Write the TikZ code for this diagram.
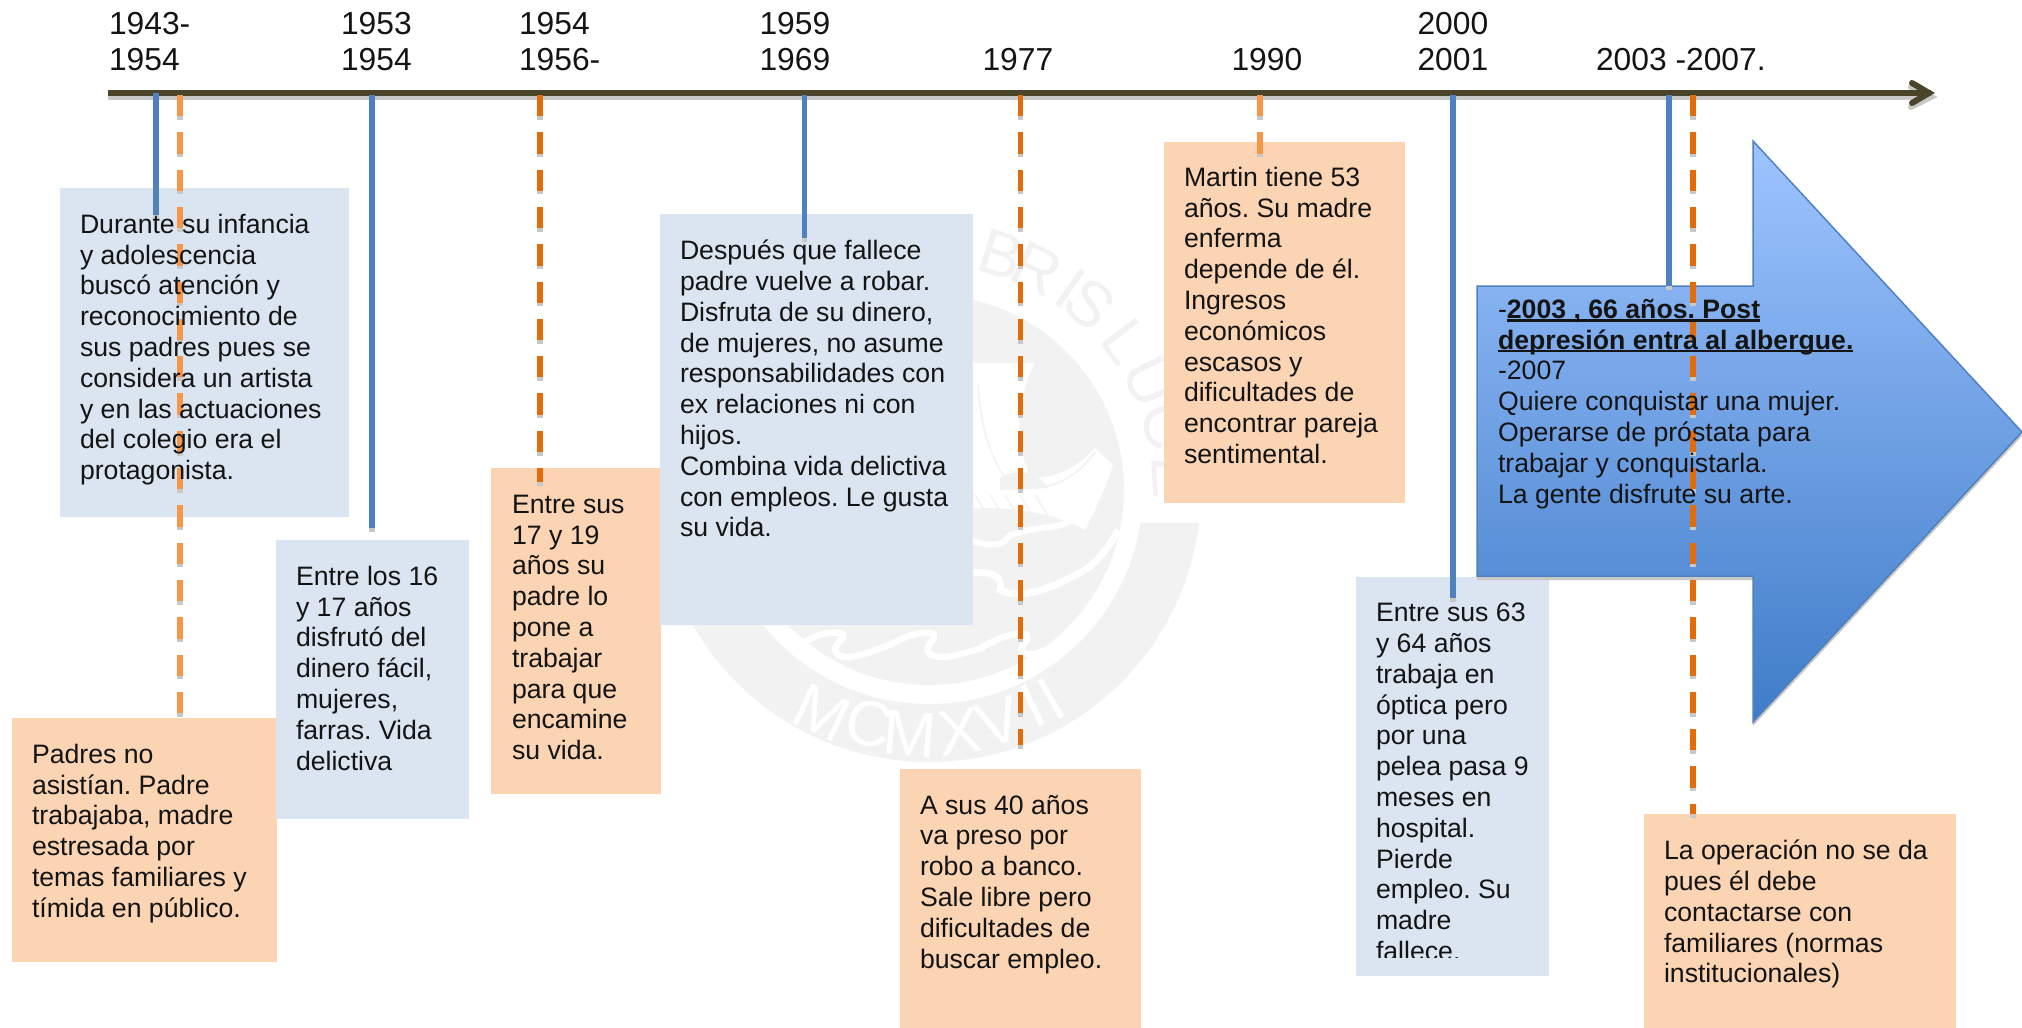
\documentclass[tikz,border=0pt]{standalone}
\usepackage{fontspec}
\setmainfont{Liberation Sans}
\frenchspacing
\definecolor{boxblue}{HTML}{DBE5F1}
\definecolor{boxorange}{HTML}{FBD4B4}
\definecolor{lineblue}{HTML}{4F81BD}
\definecolor{lineorange}{HTML}{E36C0A}
\definecolor{lineorangelt}{HTML}{F79646}
\definecolor{axiscol}{HTML}{4A452A}
\definecolor{shadowgray}{HTML}{C8C8C8}
\definecolor{wm}{HTML}{F2F2F2}
\definecolor{arrtop}{HTML}{9EC4FF}
\definecolor{arrbot}{HTML}{3F7CC8}
\newcommand{\ulx}[1]{\setbox0=\hbox{#1}\rlap{\rule[-3.4pt]{\wd0}{2.2pt}}\box0}
\newcommand{\boxat}[6]{\node[#1,minimum width=#4pt,minimum height=#5pt] (#6) at (#2,#3) {};}
\tikzset{
  x=1pt,y=-1pt,
  bluebox/.style={fill=boxblue,draw=none,anchor=north west,inner sep=0pt,outer sep=0pt},
  orangebox/.style={fill=boxorange,draw=none,anchor=north west,inner sep=0pt,outer sep=0pt},
  body/.style={anchor=north west,inner sep=0pt,outer sep=0pt,align=left,font=\fontsize{26.65}{30.8}\selectfont,text=black!92},
  year/.style={anchor=north west,inner sep=0pt,outer sep=0pt,align=left,font=\fontsize{31.8}{36}\selectfont,text=black!92},
  solidlink/.style={line width=5.3pt,lineblue,preaction={draw=shadowgray,line width=5.3pt,transform canvas={yshift=-3.5pt}}},
  dashlink/.style={line width=5.3pt,lineorange,dash pattern=on 21.3pt off 16pt,preaction={draw=shadowgray,line width=5.3pt,dash pattern=on 21.3pt off 16pt,transform canvas={yshift=-3.5pt}}},
  dashlinklt/.style={dashlink,lineorangelt},
  wmletter/.style={inner sep=0pt,font=\fontsize{64}{64}\selectfont},
}
\begin{document}
\begin{tikzpicture}
\useasboundingbox (0,0) rectangle (2022,1028);
% watermark
\coordinate (sc) at (929,490);
\begin{scope}
\clip (600,523) rectangle (1250,800);
\fill[wm] (sc) circle (272);
\end{scope}
\fill[white] (sc) circle (214);
\fill[wm] (sc) circle (195);
% sail and hull
\fill[white] (950,363) -- (1035,363) .. controls (1015,400) and (1015,440) .. (1030,478) .. controls (1060,478) and (1080,465) .. (1095,448) -- (1113,465) .. controls (1105,490) and (1095,510) .. (1085,530) .. controls (1050,510) and (1000,505) .. (950,510) -- cycle;
\draw[wm,line width=1.5pt] (978,385) .. controls (980,430) and (995,470) .. (1012,485) .. controls (1045,495) and (1075,480) .. (1095,452);
\fill[wm] (1000,478) .. controls (1015,468) and (1035,470) .. (1048,488) -- (1000,490) -- cycle;
\foreach \xa/\xb in {975/1000,990/1015,1005/1030,1020/1045,1035/1060}{\draw[wm,line width=1.5pt] (\xa,495) -- (\xb,535);}
% waves
\draw[white,line width=6pt,line join=round] (950,535) .. controls (985,545) and (1000,550) .. (1010,535) .. controls (1040,525) and (1060,530) .. (1075,518);
\draw[white,line width=7pt] (950,580) .. controls (985,565) and (1005,575) .. (1000,590) .. controls (1020,600) and (1050,590) .. (1085,570) .. controls (1100,560) and (1110,545) .. (1118,530);
\draw[white,line width=6.5pt,line join=round] (799,645) .. controls (815,635) and (830,630) .. (843,634) .. controls (845,640) and (832,645) .. (836,652) .. controls (840,662) and (865,655) .. (889,645) .. controls (905,637) and (920,630) .. (934,634) .. controls (936,640) and (925,645) .. (928,652) .. controls (935,662) and (960,655) .. (981,648) .. controls (995,640) and (1010,632) .. (1026,634) .. controls (1032,640) and (1018,645) .. (1022,652) .. controls (1028,656) and (1038,654) .. (1045,650);
% seal letters, bottom arc
\foreach \l/\px/\py/\r in {M/822/713/-25,C/869/724/-14,M/910/734/-5,X/960/732/8,V/999/722/18,I/1033/706/26,I/1051/699/30}{
  \node[wmletter,white,rotate=\r] at (\px,\py) {\l};
}
% seal letters, top arc
\foreach \l/\a in {B/17,R/26,I/35,S/41,L/53,U/64,C/75,E/87}{
  \node[wmletter,wm,rotate=-\a] at ({929+246*sin(\a)},{490-246*cos(\a)}) {\l};
}
% boxes
\boxat{bluebox}{60}{188}{289}{329}{b1}
\boxat{orangebox}{12}{718}{265}{244}{o1}
\boxat{bluebox}{276}{540}{193}{279}{b2}
\boxat{orangebox}{491}{468}{170}{326}{o2}
\boxat{bluebox}{660}{214}{313}{411}{b3}
\boxat{orangebox}{900}{769}{241}{259}{o3}
\boxat{orangebox}{1164}{142}{241}{361}{o4}
\boxat{bluebox}{1356}{577}{193}{399}{b5}
\boxat{orangebox}{1644}{814}{312}{214}{o5}
% big arrow
\fill[shadowgray] (1477,290) -- (1753,290) -- (1753,145) -- (2022,436) -- (1753,726) -- (1753,580) -- (1477,580) -- cycle;
\path[top color=arrtop,bottom color=arrbot,draw=lineblue,line width=1.5pt] (1477,286) -- (1753,286) -- (1753,141) -- (2022,432) -- (1753,722) -- (1753,576) -- (1477,576) -- cycle;
% axis
\coordinate (axs) at (108,93);
\coordinate (axe) at (1931,93);
\draw[shadowgray,line width=6pt] ([yshift=-4pt]axs) -- ([yshift=-4pt]axe);
\draw[shadowgray,line width=6pt,line cap=round] ([shift={(-20,-6)}]axe) -- ([shift={(0,4)}]axe) -- ([shift={(-20,14)}]axe);
\draw[axiscol,line width=6pt] (axs) -- (axe);
\draw[axiscol,line width=6pt,line cap=round,line join=miter] ([shift={(-19,-10)}]axe) -- ([shift={(-2,0)}]axe) -- ([shift={(-19,10)}]axe);
% connectors
\foreach \n/\x/\yy in {t1/156/93,t2/180/95,t3/372/95,t4/540/95,t5/804.5/95,t6/1020.5/95,t7/1260/95,t8/1453/95,t9/1669/95,t10/1693/95}{\coordinate (\n) at (\x,\yy);}
\foreach \n/\x/\yy in {e1/156/215,e2/180/718,e3/372/528,e4/540/482,e5/804.5/238,e6/1020.5/745,e7/1260/155,e8/1453/598,e9/1669/286,e10/1693/814}{\coordinate (\n) at (\x,\yy);}
\draw[solidlink] (t1) -- (e1);
\draw[dashlinklt] (t2) -- (e2);
\draw[solidlink] (t3) -- (e3);
\draw[dashlink] (t4) -- (e4);
\draw[solidlink] (t5) -- (e5);
\draw[dashlink] (t6) -- (e6);
\draw[dashlinklt] (t7) -- (e7);
\draw[solidlink] (t8) -- (e8);
\draw[solidlink] (t9) -- (e9);
\draw[dashlink] (t10) -- (e10);
% years
\node[year] (y1) at (109,12) {1943-\\1954};
\node[year] (y2) at (341,12) {1953\\1954};
\node[year] (y3) at (519,12) {1954\\1956-};
\node[year] (y4) at (759.5,12) {1959\\1969};
\node[year] (y5) at (982.5,48) {1977};
\node[year] (y6) at (1231.5,48) {1990};
\node[year] (y7) at (1417.5,12) {2000\\2001};
\node[year] (y8) at (1596,48) {2003 -2007.};
% texts
\node[body] (tb1) at (80,214) {Durante su infancia\\y adolescencia\\buscó atención y\\reconocimiento de\\sus padres pues se\\considera un artista\\y en las actuaciones\\del colegio era el\\protagonista.};
\node[body] (to1) at (32,744) {Padres no\\asistían. Padre\\trabajaba, madre\\estresada por\\temas familiares y\\tímida en público.};
\node[body] (tb2) at (296,566) {Entre los 16\\y 17 años\\disfrutó del\\dinero fácil,\\mujeres,\\farras. Vida\\delictiva};
\node[body] (to2) at (512,495) {Entre sus\\17 y 19\\años su\\padre lo\\pone a\\trabajar\\para que\\encamine\\su vida.};
\node[body] (tb3) at (680,240) {Después que fallece\\padre vuelve a robar.\\Disfruta de su dinero,\\de mujeres, no asume\\responsabilidades con\\ex relaciones ni con\\hijos.\\Combina vida delictiva\\con empleos. Le gusta\\su vida.};
\node[body] (to3) at (920,795) {A sus 40 años\\va preso por\\robo a banco.\\Sale libre pero\\dificultades de\\buscar empleo.};
\node[body] (to4) at (1184,167) {Martin tiene 53\\años. Su madre\\enferma\\depende de él.\\Ingresos\\económicos\\escasos y\\dificultades de\\encontrar pareja\\sentimental.};
\begin{scope}
\clip (1356,577) rectangle (1549,957);
\node[body] (tb5) at (1376,603) {Entre sus 63\\y 64 años\\trabaja en\\óptica pero\\por una\\pelea pasa 9\\meses en\\hospital.\\Pierde\\empleo. Su\\madre\\fallece.};
\end{scope}
\node[body] (to5) at (1664,840) {La operación no se da\\pues él debe\\contactarse con\\familiares (normas\\institucionales)};
\node[body] (ta) at (1498,299) {-\ulx{\textbf{2003 , 66 años. Post}}\\\ulx{\textbf{depresión entra al albergue.}}\\-2007\\Quiere conquistar una mujer.\\Operarse de próstata para\\trabajar y conquistarla.\\La gente disfrute su arte.};
\end{tikzpicture}
\end{document}
